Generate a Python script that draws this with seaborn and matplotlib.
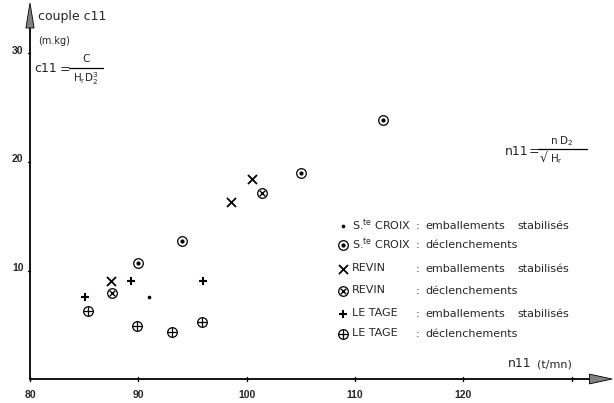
import matplotlib
matplotlib.use("Agg")
import matplotlib.pyplot as plt
from matplotlib.patches import Polygon
import pandas as pd
import seaborn as sns

# Couple unitaire c11 en fonction de n11 : essais de Ste Croix, Revin et Le Tage
croix_emb_n11 = [91.0]
croix_emb_c11 = [7.6]
croix_dec_n11 = [90.0, 94.0, 105.0, 112.6]
croix_dec_c11 = [10.7, 12.75, 19.0, 23.9]
revin_emb_n11 = [87.5, 98.6, 100.5]
revin_emb_c11 = [9.05, 16.35, 18.4]
revin_dec_n11 = [87.6, 101.4]
revin_dec_c11 = [7.95, 17.1]
tage_emb_n11 = [85.1, 89.3, 96.0]
tage_emb_c11 = [7.55, 9.05, 9.0]
tage_dec_n11 = [85.35, 89.85, 93.1, 95.85]
tage_dec_c11 = [6.3, 4.9, 4.35, 5.3]

x_tick_labels = [80, 90, 100, 110, 120]
x_tick_marks = [80, 90, 100, 110, 120, 130]
y_tick_labels = [10, 20, 30]

legend_sites = ["S.$^{\\mathregular{te}}$ CROIX", "S.$^{\\mathregular{te}}$ CROIX",
                "REVIN", "REVIN", "LE TAGE", "LE TAGE"]
legend_essais = ["emballements", "déclenchements", "emballements",
                 "déclenchements", "emballements", "déclenchements"]
legend_stab = ["stabilisés", "", "stabilisés", "", "stabilisés", ""]

series = [
    ("croix_emb", croix_emb_n11, croix_emb_c11, "dot"),
    ("croix_dec", croix_dec_n11, croix_dec_c11, "circle_dot"),
    ("revin_emb", revin_emb_n11, revin_emb_c11, "cross"),
    ("revin_dec", revin_dec_n11, revin_dec_c11, "circle_cross"),
    ("tage_emb", tage_emb_n11, tage_emb_c11, "plus"),
    ("tage_dec", tage_dec_n11, tage_dec_c11, "circle_plus"),
]

sns.set_style("white")
plt.rcParams["font.family"] = ["DejaVu Sans"]
plt.rcParams["mathtext.fontset"] = "custom"
plt.rcParams["mathtext.rm"] = "DejaVu Sans"
plt.rcParams["mathtext.it"] = "DejaVu Sans"
plt.rcParams["mathtext.bf"] = "DejaVu Sans:bold"

# symbol layers: (marker, size, linewidth, filled)
LAYERS = {
    "dot": [("o", 7, 0.0, True)],
    "circle_dot": [("o", 48, 0.9, False), ("o", 9, 0.0, True)],
    "cross": [("x", 42, 1.3, None)],
    "circle_cross": [("o", 48, 0.9, False), ("x", 16, 1.0, None)],
    "plus": [("+", 40, 1.5, None)],
    "circle_plus": [("o", 48, 0.9, False), ("+", 48, 0.9, None)],
}


def draw_symbol(ax, x, y, kind):
    df = pd.DataFrame({"n11": x, "c11": y})
    for marker, size, lw, filled in LAYERS[kind]:
        n_before = len(ax.collections)
        sns.scatterplot(data=df, x="n11", y="c11", marker=marker, s=size,
                        color="black", linewidth=lw, ax=ax, legend=False, zorder=3)
        pc = ax.collections[n_before]
        if filled is False:
            pc.set_facecolor("white")
        else:
            pc.set_facecolor("black")
        pc.set_edgecolor("black")
        pc.set_linewidth(lw)


# page layout helper: annotations are placed in pixels of the 614x403 sheet
def px(x, y):
    return 80 + (x - 30) / 10.83, (379 - y) / 10.85


fig = plt.figure(figsize=(6.14, 4.03), dpi=100)
ax = fig.add_axes([0, 0, 1, 1])
ax.set_xlim(77.23, 133.92)
ax.set_ylim(-2.21, 34.93)
ax.axis("off")

# axes with arrow heads
x0, y0 = 80, 0
x_tip, y_tip = 133.75, 34.65
ax.plot([x0, x_tip - 2.0], [y0, y0], color="black", lw=1.3, zorder=2)
ax.plot([x0, x0], [y0, y_tip - 2.0], color="black", lw=1.3, zorder=2)
ax.add_patch(Polygon([[x_tip, y0], [x_tip - 2.1, y0 + 0.45], [x_tip - 2.1, y0 - 0.45]],
                     closed=True, fc="#808080", ec="black", lw=0.6, zorder=2))
ax.add_patch(Polygon([[x0, y_tip], [x0 - 0.38, y_tip - 2.3], [x0 + 0.38, y_tip - 2.3]],
                     closed=True, fc="#808080", ec="black", lw=0.6, zorder=2))

for t in x_tick_marks:
    ax.plot([t, t], [-0.18, 0.18], color="black", lw=1.0)
for t in x_tick_labels:
    ax.text(t, -1.45, str(t), ha="center", va="center", fontsize=7.5,
            fontweight="bold", family="Liberation Sans")
for t in y_tick_labels:
    ax.plot([x0 - 0.2, x0], [t, t], color="black", lw=1.0)
    ax.text(x0 - 0.6, t + 0.25, str(t), ha="right", va="center", fontsize=7.5,
            fontweight="bold", family="Liberation Sans")

# axis titles
ax.text(*px(38, 17), "couple c11", ha="left", va="center", fontsize=9)
ax.text(*px(38, 41), "(m.kg)", ha="left", va="center", fontsize=7)
ax.text(*px(508, 363), "n11", ha="left", va="center", fontsize=9)
ax.text(*px(537, 364), "(t/mn)", ha="left", va="center", fontsize=8)

# c11 = C / (Hr D2^3)
ax.text(*px(34, 69), "c11", ha="left", va="center", fontsize=9)
ax.text(*px(60, 70), "=", ha="left", va="center", fontsize=9)
bx0, by = px(69, 68)
bx1, _ = px(103, 68)
ax.plot([bx0, bx1], [by, by], color="black", lw=0.9)
ax.text(*px(86, 59), "C", ha="center", va="center", fontsize=7.5)
ax.text(*px(86, 79), "H$_{\\mathregular{r}}$D$_{\\mathregular{2}}^{\\mathregular{3}}$",
        ha="center", va="center", fontsize=7.5)

# n11 = n D2 / sqrt(Hr)
ax.text(*px(505, 151), "n11", ha="left", va="center", fontsize=9)
ax.text(*px(529, 152), "=", ha="left", va="center", fontsize=9)
bx0, by = px(538, 149)
bx1, _ = px(587, 149)
ax.plot([bx0, bx1], [by, by], color="black", lw=0.9)
ax.text(*px(562, 141), "n D$_{\\mathregular{2}}$", ha="center", va="center", fontsize=7.5)
ax.text(*px(540, 158), "√", ha="left", va="center", fontsize=9)
ax.text(*px(550, 159), "H$_{\\mathregular{r}}$", ha="left", va="center", fontsize=7.5)

# data
for name, xs, ys, kind in series:
    draw_symbol(ax, xs, ys, kind)

# key
row_py = [226, 245, 269, 291, 314, 334]
for i, (_, _, _, kind) in enumerate(series):
    mx, my = px(343, row_py[i])
    draw_symbol(ax, [mx], [my], kind)
    ax.text(*px(352, row_py[i] - 1), legend_sites[i], ha="left", va="center", fontsize=8)
    ax.text(*px(416, row_py[i]), ":", ha="left", va="center", fontsize=8)
    ax.text(*px(425, row_py[i]), legend_essais[i], ha="left", va="center", fontsize=8)
    if legend_stab[i]:
        ax.text(*px(517, row_py[i]), legend_stab[i], ha="left", va="center", fontsize=8)

fig.savefig("out.png", dpi=100)
